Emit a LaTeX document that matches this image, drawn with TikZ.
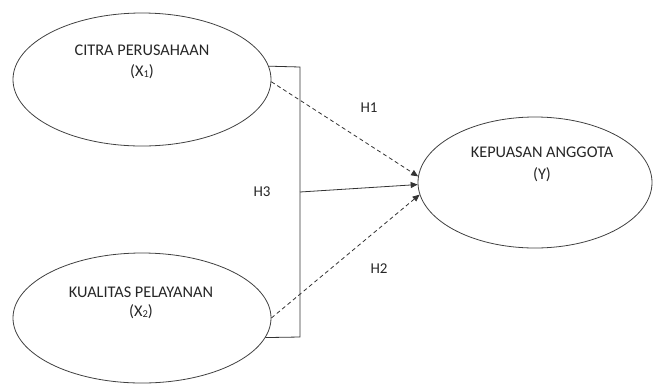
\documentclass[tikz,border=0pt]{standalone}
\usepackage{fontspec}
\setmainfont{Carlito}
\usetikzlibrary{shapes.geometric,arrows.meta}
\newcommand{\lowsub}[1]{\raisebox{-0.5bp}{\fontsize{10.5bp}{11bp}\selectfont #1}}
\begin{document}
\begin{tikzpicture}[x=1bp,y=-1bp,
  every node/.style={font=\fontsize{16.3bp}{18bp}\selectfont, text=black!85, inner sep=0pt},
  oval/.style={draw=black!75, line width=0.8bp, ellipse, inner sep=0pt},
  link/.style={draw=black!80, line width=0.8bp},
  dlink/.style={link, dash pattern=on 4bp off 3bp},
  tip/.style={-{Triangle[length=7bp,width=6bp]}},
  lbl/.style={font=\fontsize{15bp}{17bp}\selectfont}]
\useasboundingbox (0,0) rectangle (654,383);
% ellipses
\node[oval, minimum width=258bp, minimum height=133bp] (x1) at (142,79.5) {};
\node[oval, minimum width=258bp, minimum height=130bp] (x2) at (142,318) {};
\node[oval, minimum width=234bp, minimum height=131bp] (y) at (535,182.5) {};
% texts
\node (t1a) at (142,50) {CITRA PERUSAHAAN};
\node (t1b) at (142,72) {(X\lowsub{1})};
\node (t2a) at (141,292) {KUALITAS PELAYANAN};
\node (t2b) at (141,312) {(X\lowsub{2})};
\node (tya) at (542,152) {KEPUASAN ANGGOTA};
\node (tyb) at (542,175) {(Y)};
% labels
\node[lbl] (h1) at (369,108) {H1};
\node[lbl] (h2) at (379,269) {H2};
\node[lbl] (h3) at (262,192) {H3};
% bracket
\coordinate (b1) at (300,67);
\coordinate (b2) at (300,337);
\coordinate (b3) at (300,192);
\draw[link] (x1.6) -- (b1) -- (b2) -- (x2.-9);
% arrows
\draw[link, tip] (b3) -- (y.181.7);
\draw[dlink, tip] (x1.-1) -- (y.177.3);
\draw[dlink, tip] (x2.east) -- (y.186.2);
\end{tikzpicture}
\end{document}
